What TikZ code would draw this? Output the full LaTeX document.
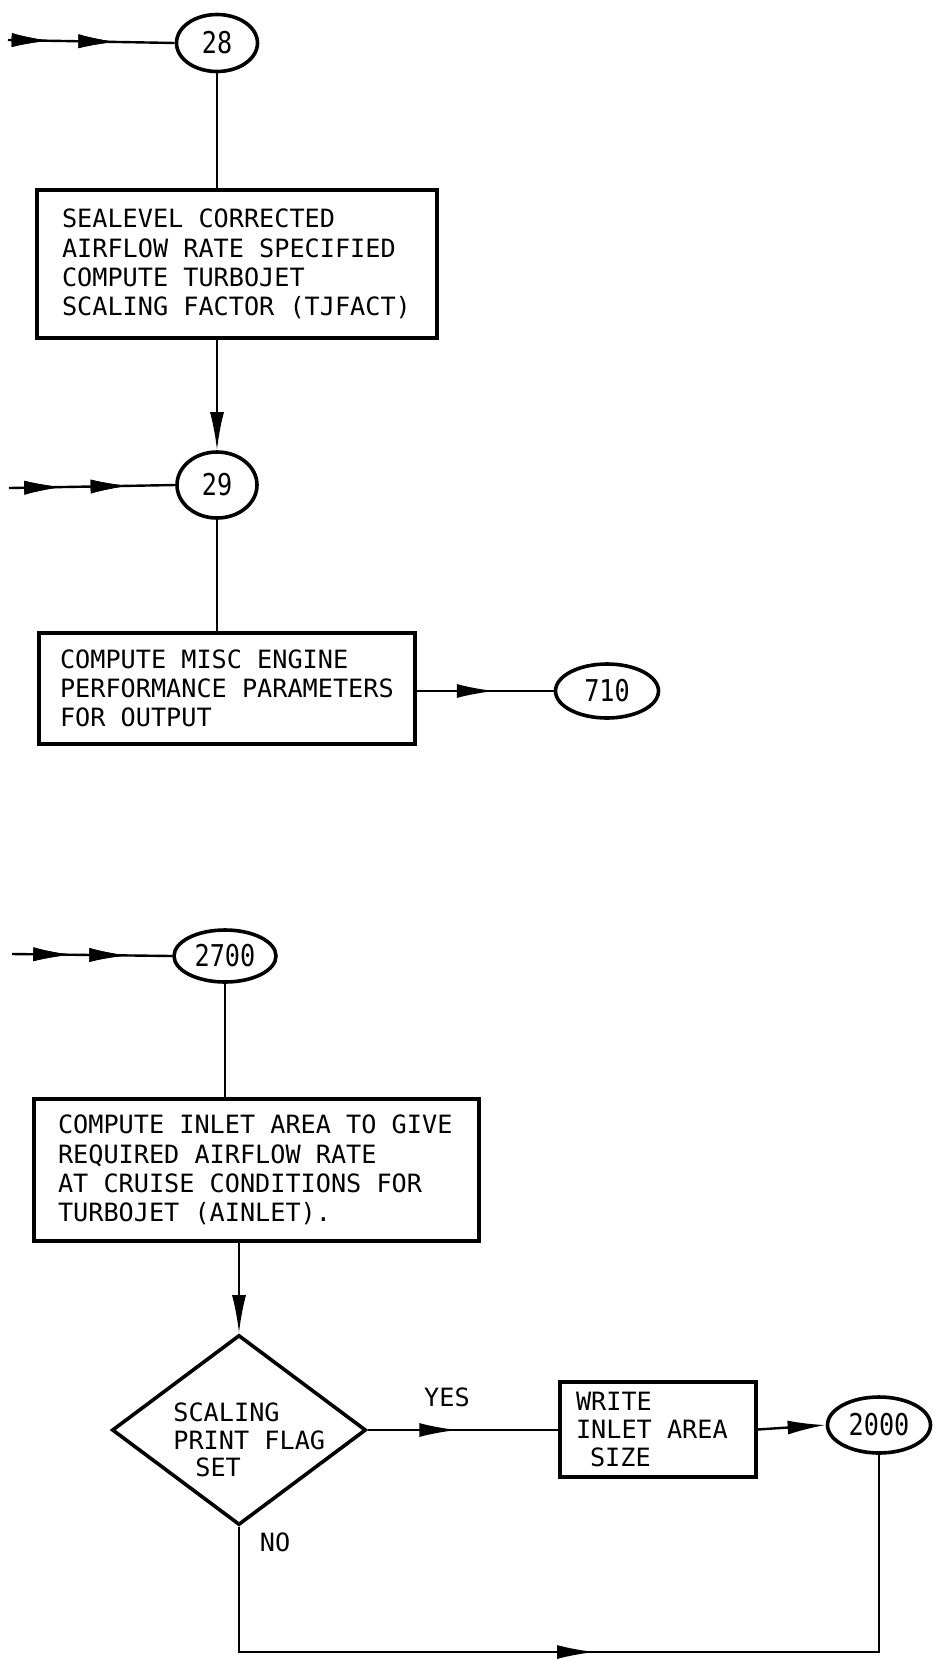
\documentclass[tikz,border=0pt]{standalone}
\usepackage{fontspec}
\setmainfont{DejaVu Sans Mono}
\newfontfamily\numfont[FakeStretch=0.84]{DejaVu Sans Mono}
\newcommand\monospc{\spaceskip=0.602em\relax\xspaceskip=0.602em\relax}
\usetikzlibrary{shapes.geometric,arrows.meta,decorations.markings}
\tikzset{
  tipx/.tip={Latex[length=19pt,width=7pt]},
  conn/.style={line width=1.2pt},
  midarrow/.style={postaction={decorate},decoration={markings,mark=at position #1 with {\arrow{tipx}}}},
  procbox/.style={draw,line width=1.8pt,rectangle,align=left,inner ysep=0pt,
     font=\fontsize{12.6}{14.6}\selectfont},
  conncircle/.style={draw,line width=1.8pt,ellipse,inner sep=0pt,
     font=\numfont\fontsize{15}{16}\selectfont},
  decision/.style={draw,line width=1.8pt,diamond,inner sep=0pt},
  plain/.style={inner sep=0pt,font=\fontsize{12.6}{13.6}\selectfont}
}
\begin{document}
\begin{tikzpicture}[x=0.5pt,y=-0.5pt]
\fill[white] (0,0) rectangle (934,1660);
\useasboundingbox (0,0) rectangle (934,1660);

% ---- top part
\node[conncircle,minimum width=40.5pt,minimum height=28.5pt] (c28) at (217,43) {28};
\node[procbox,minimum width=200pt,minimum height=74pt,inner xsep=12.5pt,text width=175pt] (b1) at (237,264)
  {\monospc SEALEVEL CORRECTED\\AIRFLOW RATE SPECIFIED\\COMPUTE TURBOJET\\SCALING FACTOR (TJFACT)};
\node[conncircle,minimum width=40pt,minimum height=33pt] (c29) at (217,485) {29};
\node[procbox,minimum width=188pt,minimum height=55.5pt,inner xsep=10.5pt,text width=167pt] (b2) at (227,688.5)
  {\monospc COMPUTE MISC ENGINE\\PERFORMANCE PARAMETERS\\FOR OUTPUT};
\node[conncircle,minimum width=51.5pt,minimum height=27pt] (c710) at (607,691) {710};

\coordinate (in1) at (8,40);
\coordinate (in2) at (9,488);
\coordinate (in3) at (12,954);

\draw[conn,midarrow=0.25,midarrow=0.65] (in1) -- (c28.west);
\draw[conn] (c28.south) -- (c28 |- b1.north);
\draw[conn,-{tipx}] (c29 |- b1.south) -- (c29.north);
\draw[conn,midarrow=0.32,midarrow=0.72] (in2) -- (c29.west);
\draw[conn] (c29.south) -- (c29 |- b2.north);
\draw[conn,midarrow=0.57] (b2.east |- c710) -- (c710.west);

% ---- lower part
\node[conncircle,minimum width=51pt,minimum height=26pt] (c2700) at (225,956) {2700};
\node[procbox,minimum width=222.5pt,minimum height=71pt,inner xsep=12pt,text width=198.5pt] (b3) at (256.5,1170)
  {\monospc COMPUTE INLET AREA TO GIVE\\REQUIRED AIRFLOW RATE\\AT CRUISE CONDITIONS FOR\\TURBOJET (AINLET).};
\node[decision,minimum width=127pt,minimum height=95pt] (d) at (239,1430) {};
\node[plain,align=left,anchor=west] (dtext) at (173,1440) {SCALING\\PRINT FLAG\\\hspace*{11pt}SET};
\node[procbox,minimum width=98pt,minimum height=47.5pt,inner xsep=8pt,text width=82pt,
  font=\fontsize{12.6}{13.8}\selectfont] (b4) at (658,1429.5)
  {\monospc WRITE\\INLET AREA\\\hspace*{7pt}SIZE};
\node[conncircle,minimum width=51.5pt,minimum height=28pt] (c2000) at (879,1425) {2000};
\node[plain] (yes) at (447,1397) {YES};
\node[plain] (no) at (275,1542) {NO};

\draw[conn,midarrow=0.37,midarrow=0.72] (in3) -- (c2700.west);
\draw[conn] (c2700.south) -- (c2700 |- b3.north);
\draw[conn,-{tipx}] (d |- b3.south) -- (d.north);
\draw[conn,midarrow=0.47] (d.east) -- (b4.west |- d.east);
\draw[conn,-{tipx}] (b4.east) -- (c2000.west);
\coordinate (bl) at (239,1652);
\draw[conn,midarrow=0.50] (d.south) -- (bl) -- (c2000 |- bl) -- (c2000.south);
\end{tikzpicture}
\end{document}
